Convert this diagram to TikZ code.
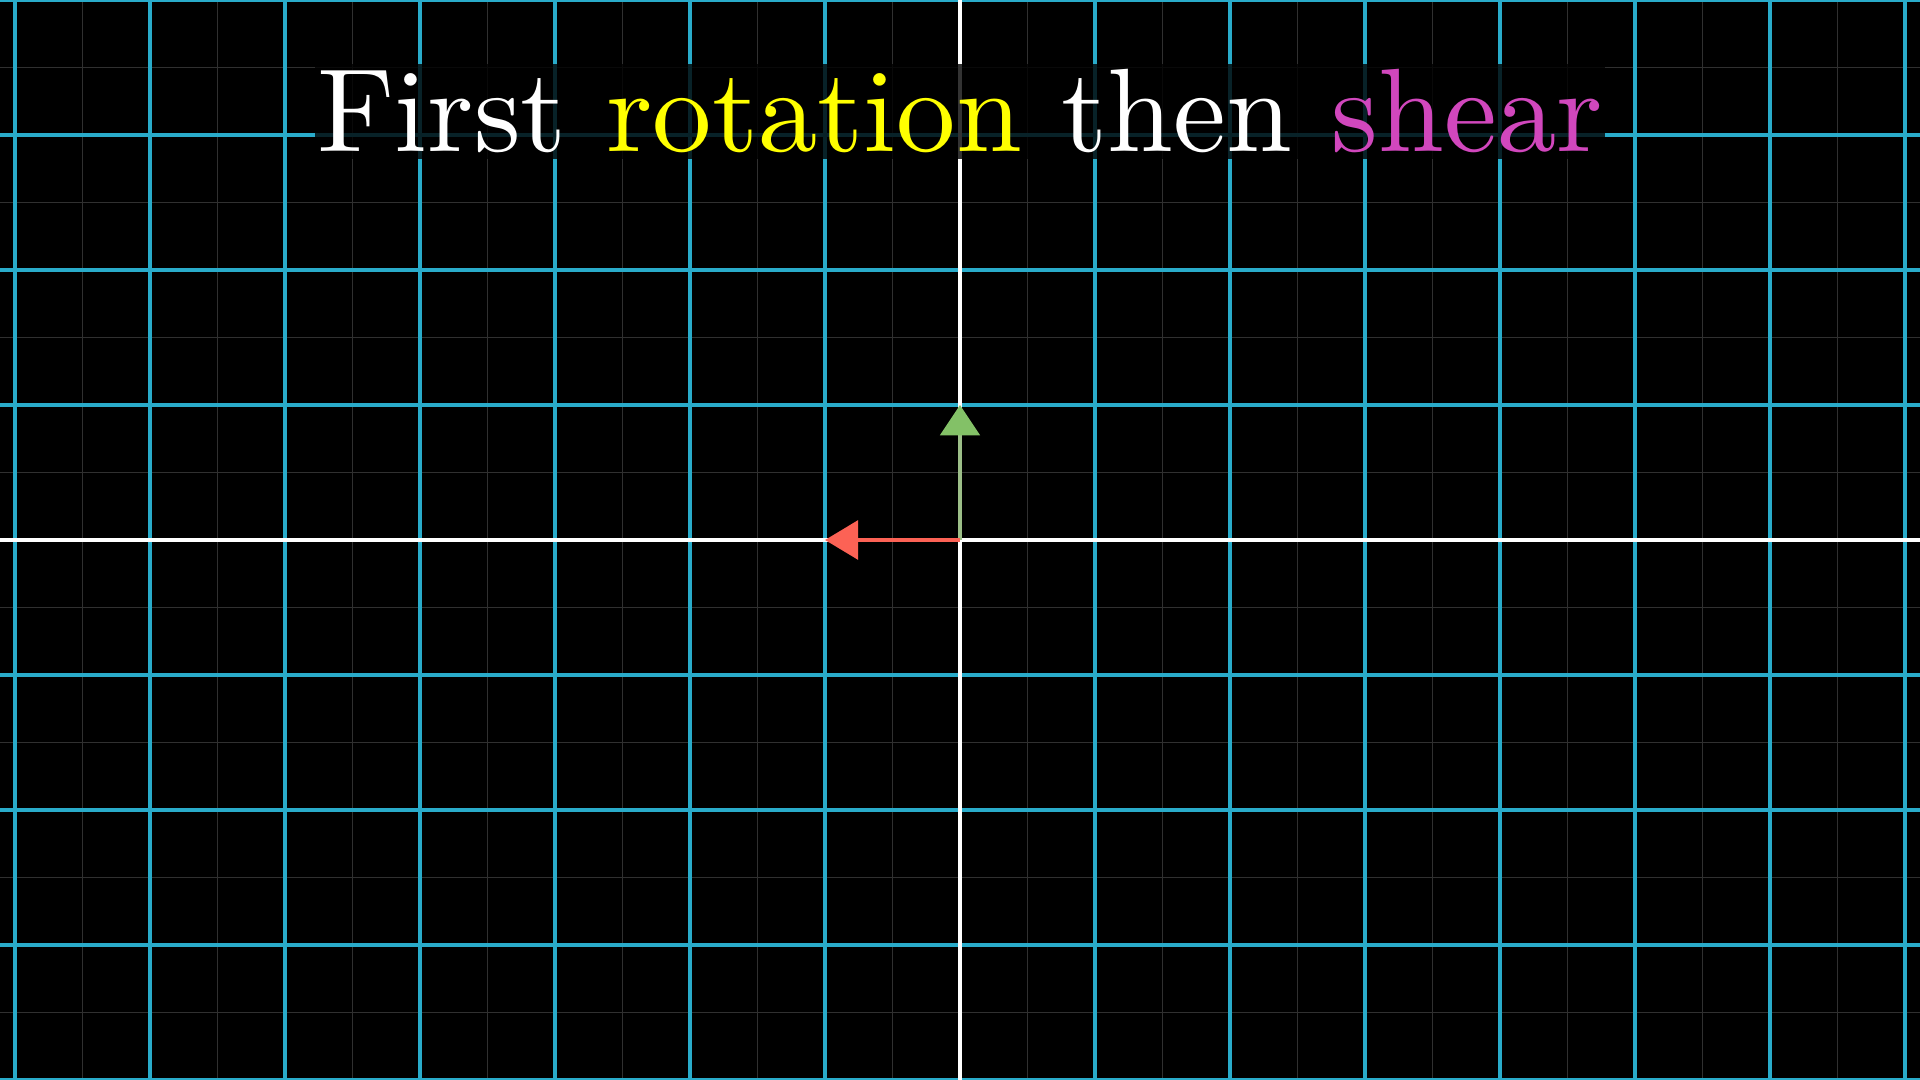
\documentclass[tikz,border=0pt]{standalone}
\usetikzlibrary{arrows.meta}
\definecolor{gridblue}{HTML}{29ABCA}
\definecolor{faintgrid}{HTML}{303030}
\definecolor{vecgreen}{HTML}{83C167}
\definecolor{vecstem}{HTML}{9CBF88}
\definecolor{vecred}{HTML}{FC6255}
\definecolor{titleyellow}{HTML}{FFFF00}
\definecolor{titlepink}{HTML}{D147BD}
\tikzset{
  faintline/.style={draw=faintgrid, line width=0.3pt},
  mainline/.style={draw=gridblue, line width=0.85pt},
  axisline/.style={draw=white, line width=0.75pt},
  titlebox/.style={fill=black, fill opacity=0.8, text opacity=1, text=white,
    inner xsep=0.2pt, inner ysep=0.5pt, scale=2.5, anchor=base}
}
\begin{document}
\begin{tikzpicture}
\fill[black] (-7.11111,-4) rectangle (7.11111,4);
\useasboundingbox (-7.11111,-4) rectangle (7.11111,4);
% faint half-unit lines
\foreach \x in {-6.5,-5.5,...,6.5} \draw[faintline] (\x,-4) -- (\x,4);
\foreach \y in {-3.5,-2.5,...,3.5} \draw[faintline] (-7.11111,\y) -- (7.11111,\y);
% main grid lines
\foreach \x in {-7,...,-1,1,2,...,7} \draw[mainline] (\x,-4) -- (\x,4);
\foreach \y in {-4,...,-1,1,2,...,4} \draw[mainline] (-7.11111,\y) -- (7.11111,\y);
% axes
\draw[axisline] (-7.11111,0) -- (7.11111,0);
\draw[axisline] (0,-4) -- (0,4);
% title
\node[titlebox] (title) at (0,2.875)
  {First \textcolor{titleyellow}{rotation} then \textcolor{titlepink}{shear}};
% basis vectors
\coordinate (O) at (0,0);
\coordinate (ihat) at (-1,0);
\coordinate (jhat) at (0,1);
\draw[line width=1pt, draw=vecstem, -{Triangle[length=0.225cm,width=0.29cm,color=vecgreen]}] (O) -- (jhat);
\draw[line width=1pt, draw=vecred, -{Triangle[length=0.245cm,width=0.285cm,color=vecred]}] (O) -- (ihat);
\end{tikzpicture}
\end{document}
